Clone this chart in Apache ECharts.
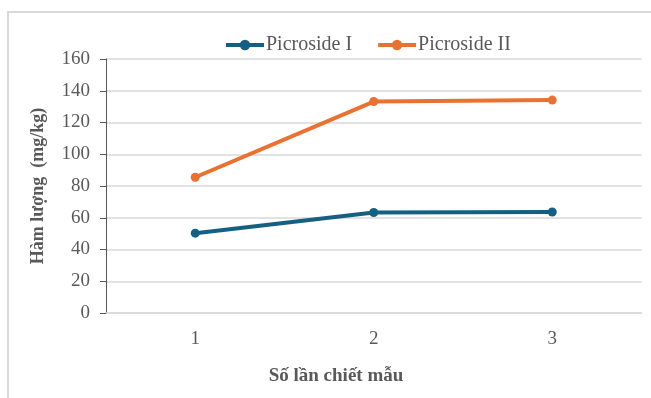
<!DOCTYPE html>
<html><head><meta charset="utf-8">
<script src="https://cdn.jsdelivr.net/npm/echarts@6/dist/echarts.min.js"></script>
<style>html,body{margin:0;padding:0;background:#fff}#c{width:651px;height:398px}</style>
</head><body><div id="c"></div>
<script>
const categories = ['1', '2', '3'];
const picrosideI = [50.3, 63.3, 63.6];
const picrosideII = [85.5, 133.2, 134.1];
const yTicks = [0, 20, 40, 60, 80, 100, 120, 140, 160];
const seriesNames = ['Picroside I', 'Picroside II'];
const xTitle = 'Số lần chiết mẫu';
const yTitle = 'Hàm lượng  (mg/kg)';

const font = '"Liberation Serif", "Times New Roman", serif';
const chart = echarts.init(document.getElementById('c'), null, {renderer: 'canvas'});
chart.setOption({
  animation: false,
  backgroundColor: '#fff',
  graphic: [
    {type: 'rect', shape: {x: 8, y: 12, width: 720, height: 420}, style: {fill: 'none', stroke: '#d9d9d9', lineWidth: 2}, silent: true},
    {type: 'text', x: 336, y: 376, style: {text: xTitle, font: 'bold 19px ' + font, fill: '#595959', align: 'center', verticalAlign: 'middle'}}
  ],
  legend: {
    top: 30, left: 219,
    itemWidth: 38, itemHeight: 13, itemGap: 24,
    lineStyle: {width: 4},
    textStyle: {fontFamily: font, fontSize: 20, color: '#595959', padding: [0, 0, 0, -3]},
    data: seriesNames
  },
  grid: {left: 106, right: 9.5, top: 59, bottom: 85, containLabel: false},
  xAxis: {
    type: 'category', data: categories, boundaryGap: true,
    axisLine: {show: true, lineStyle: {color: '#d9d9d9', width: 1.5}},
    axisTick: {show: false},
    axisLabel: {fontFamily: font, fontSize: 19, color: '#595959', margin: 17}
  },
  yAxis: {
    type: 'value', min: 0, max: 160, interval: 20,
    name: yTitle, nameLocation: 'middle', nameGap: 59,
    nameTextStyle: {fontFamily: font, fontSize: 18, fontWeight: 'bold', color: '#595959'},
    axisLine: {show: true, lineStyle: {color: '#595959', width: 1}},
    axisTick: {show: true, length: 6, lineStyle: {color: '#595959'}},
    axisLabel: {fontFamily: font, fontSize: 19, color: '#595959', margin: 16,
      formatter: v => yTicks.includes(v) ? String(v) : ''},
    splitLine: {show: true, lineStyle: {color: '#d9d9d9', width: 1.5}}
  },
  series: [
    {name: seriesNames[0], type: 'line', data: picrosideI, symbol: 'circle', symbolSize: 9,
     lineStyle: {color: '#156082', width: 4}, itemStyle: {color: '#156082'}},
    {name: seriesNames[1], type: 'line', data: picrosideII, symbol: 'circle', symbolSize: 9,
     lineStyle: {color: '#E97132', width: 4}, itemStyle: {color: '#E97132'}}
  ]
});
</script></body></html>
